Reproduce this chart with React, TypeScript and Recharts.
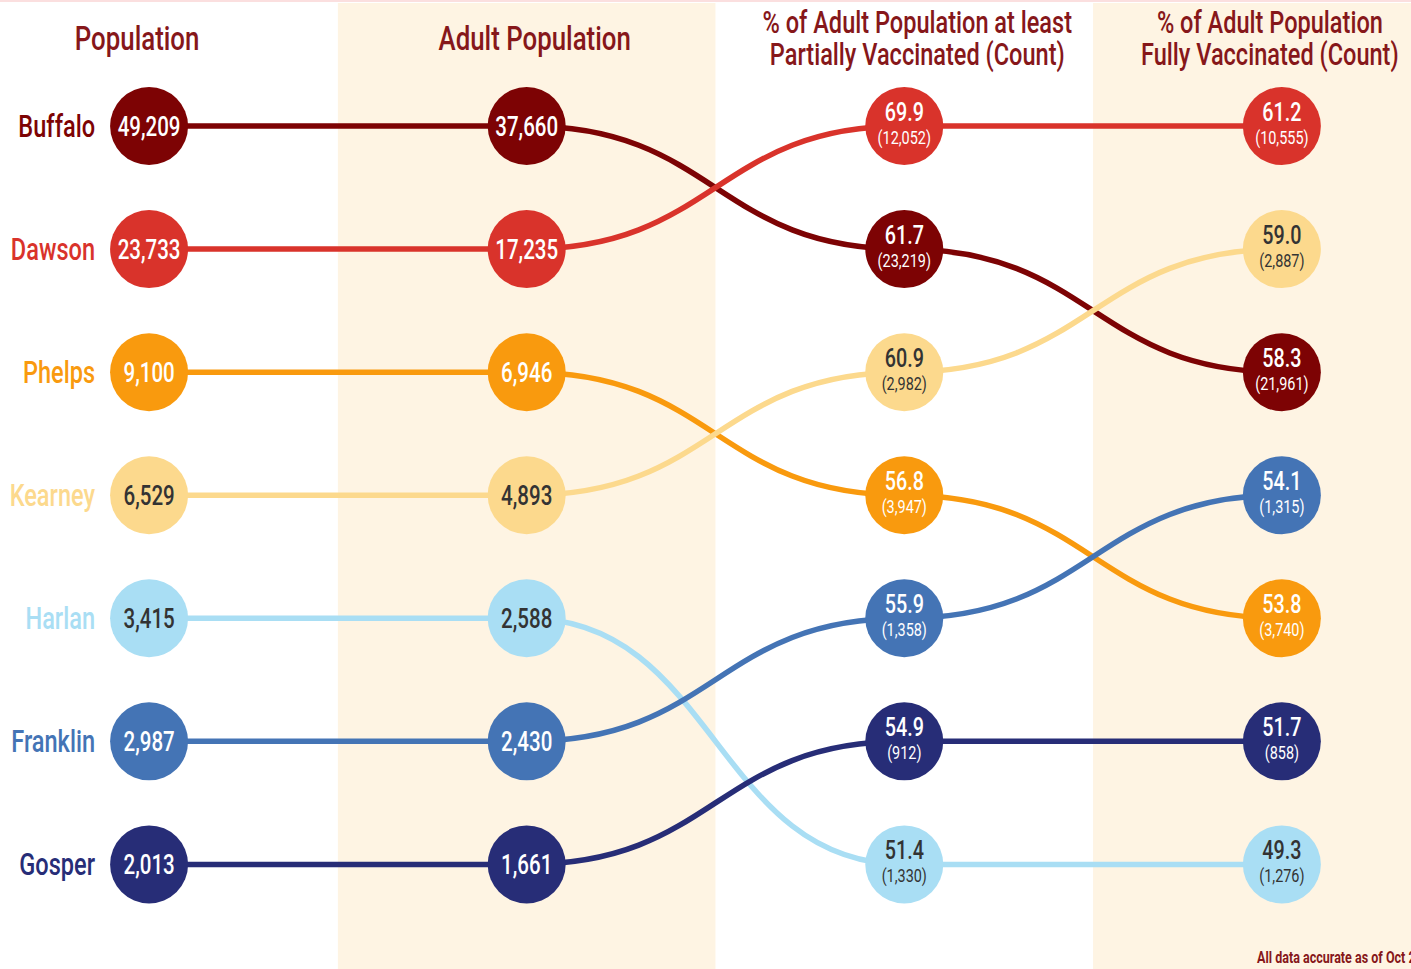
import { LineChart, Line, XAxis, YAxis, ReferenceArea } from "recharts";

const counties = ["Buffalo", "Dawson", "Phelps", "Kearney", "Harlan", "Franklin", "Gosper"];
const countyColors = ["#7d0304", "#d9332b", "#f99a0e", "#fcd98d", "#a9def4", "#4474b5", "#272d77"];
const lightCounties = ["Kearney", "Harlan"];

const population = [49209, 23733, 9100, 6529, 3415, 2987, 2013];
const adultPopulation = [37660, 17235, 6946, 4893, 2588, 2430, 1661];
const partialPct = [61.7, 69.9, 56.8, 60.9, 51.4, 55.9, 54.9];
const partialCount = [23219, 12052, 3947, 2982, 1330, 1358, 912];
const fullPct = [58.3, 61.2, 53.8, 59.0, 49.3, 54.1, 51.7];
const fullCount = [21961, 10555, 3740, 2887, 1276, 1315, 858];

const headers = [
  ["Population"],
  ["Adult Population"],
  ["% of Adult Population at least", "Partially Vaccinated (Count)"],
  ["% of Adult Population", "Fully Vaccinated (Count)"],
];
const footnote = "All data accurate as of Oct 2";

const FONT = "Roboto, 'DejaVu Sans Condensed', sans-serif";
const TITLE_COLOR = "#86171a";
const BAND = "#fef4e3";
const SQUEEZE = 0.76;
// headers in the original are not exactly centred over their columns
const HEADER_SHIFT = [-12, 8, 13, -12];

const fmt = (n: number) => n.toLocaleString("en-US");
const rankOf = (values: number[], i: number) => 1 + values.filter((v) => v > values[i]).length;

type Point = { col: number; rank: number; label: string; sub?: string };

const series = counties.map((name, i) => {
  const points: Point[] = [
    { col: 0, rank: rankOf(population, i), label: fmt(population[i]) },
    { col: 1, rank: rankOf(adultPopulation, i), label: fmt(adultPopulation[i]) },
    { col: 2, rank: rankOf(partialPct, i), label: partialPct[i].toFixed(1), sub: `(${fmt(partialCount[i])})` },
    { col: 3, rank: rankOf(fullPct, i), label: fullPct[i].toFixed(1), sub: `(${fmt(fullCount[i])})` },
  ];
  return { name, color: countyColors[i], points };
});

// condensed-looking text: horizontal squeeze of a normal face
function NarrowText({ x, y, size, fill, anchor = "middle", weight = 400, children }: any) {
  return (
    <text
      transform={`translate(${x} ${y}) scale(${SQUEEZE} 1)`}
      textAnchor={anchor}
      fontFamily={FONT}
      fontSize={size}
      fontWeight={weight}
      fill={fill}
    >
      {children}
    </text>
  );
}

function Bubble(props: any) {
  const { cx, cy, payload, color, name } = props;
  if (cx == null || cy == null) return null;
  const textColor = lightCounties.includes(name) ? "#333333" : "#ffffff";
  return (
    <g>
      <circle cx={cx} cy={cy} r={39} fill={color} />
      {payload.sub ? (
        <>
          <NarrowText x={cx} y={cy - 5} size={26} fill={textColor} weight={500}>
            {payload.label}
          </NarrowText>
          <NarrowText x={cx} y={cy + 18} size={19} fill={textColor}>
            {payload.sub}
          </NarrowText>
        </>
      ) : (
        <NarrowText x={cx} y={cy + 10} size={27} fill={textColor} weight={500}>
          {payload.label}
        </NarrowText>
      )}
    </g>
  );
}

function HeaderTick(props: any) {
  const { x, payload } = props;
  const lines: string[] = headers[payload.value] || [];
  const hx = x + (HEADER_SHIFT[payload.value] || 0);
  if (lines.length === 1) {
    return (
      <NarrowText x={hx} y={50} size={34} fill={TITLE_COLOR} weight={500}>
        {lines[0]}
      </NarrowText>
    );
  }
  return (
    <g>
      {lines.map((l, k) => (
        <NarrowText key={k} x={hx} y={33 + k * 32} size={31} fill={TITLE_COLOR} weight={500}>
          {l}
        </NarrowText>
      ))}
    </g>
  );
}

function CountyTick(props: any) {
  const { y, payload } = props;
  const idx = counties.findIndex((_, i) => rankOf(population, i) === payload.value);
  if (idx < 0) return null;
  return (
    <NarrowText x={95} y={y + 11} size={31} fill={countyColors[idx]} anchor="end" weight={500}>
      {counties[idx]}
    </NarrowText>
  );
}

export default function App() {
  return (
    <div style={{ position: "absolute", top: 0, left: 0, width: 1411, height: 969, background: "#fff", overflow: "hidden" }}>
      <LineChart width={1411} height={969} margin={{ top: 0, right: 0, bottom: 0, left: 0 }}>
        <ReferenceArea x1={0.5} x2={1.5} fill={BAND} fillOpacity={1} stroke="none" ifOverflow="hidden" />
        <ReferenceArea x1={2.5} x2={3.342} fill={BAND} fillOpacity={1} stroke="none" ifOverflow="hidden" />
        <XAxis
          type="number"
          dataKey="col"
          domain={[-0.13, 3.342]}
          ticks={[0, 1, 2, 3]}
          orientation="top"
          height={3}
          axisLine={false}
          tickLine={false}
          tick={<HeaderTick />}
          interval={0}
        />
        <YAxis
          type="number"
          dataKey="rank"
          domain={[0, 7.85]}
          reversed
          ticks={[1, 2, 3, 4, 5, 6, 7]}
          width={100}
          axisLine={false}
          tickLine={false}
          tick={<CountyTick />}
          interval={0}
        />
        {series.map((s) => (
          <Line
            key={s.name}
            data={s.points}
            dataKey="rank"
            type="bumpX"
            stroke={s.color}
            strokeWidth={5.5}
            isAnimationActive={false}
            dot={(p: any) => <Bubble key={`${s.name}-${p.index}`} {...p} color={s.color} name={s.name} />}
            activeDot={false}
          />
        ))}
      </LineChart>
      <div style={{ position: "absolute", top: 0, left: 0, width: 1411, height: 2, background: "#fbdfdf" }} />
      <svg style={{ position: "absolute", left: 0, top: 0 }} width={1411} height={969} pointerEvents="none">
        <NarrowText x={1257} y={963} size={16.5} fill={TITLE_COLOR} anchor="start" weight={700}>
          {footnote}
        </NarrowText>
      </svg>
    </div>
  );
}
